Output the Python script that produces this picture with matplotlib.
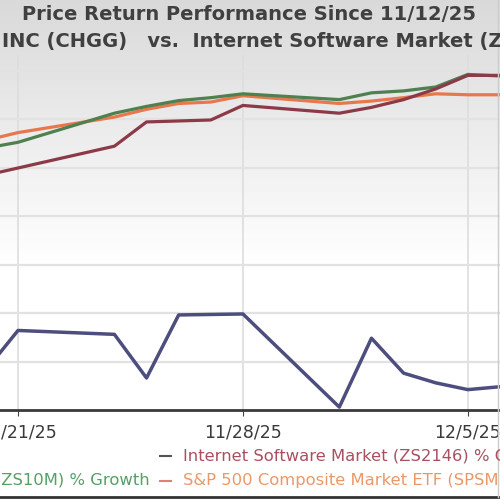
import numpy as np
import matplotlib.pyplot as plt
from matplotlib.lines import Line2D

# Data (days counted from 11/21/25, calendar spacing)
days = [-1, 0, 3, 4, 5, 6, 7, 10, 11, 12, 13, 14, 17]
chgg = [-25.9, -21.8, -22.2, -26.7, -20.2, -20.15, -20.1, -29.7, -22.6, -26.2, -27.2, -27.9, -27.0]
industry = [-5.8, -5.05, -2.8, -0.3, -0.2, -0.1, 1.4, 0.6, 1.2, 2.0, 3.1, 4.5, 4.5]
sector = [-3.0, -2.4, 0.6, 1.3, 1.9, 2.2, 2.6, 2.0, 2.7, 2.9, 3.3, 4.6, 4.1]
sp500 = [-2.2, -1.4, 0.2, 1.0, 1.6, 1.75, 2.4, 1.6, 1.85, 2.2, 2.6, 2.5, 2.5]

tick_days = [0, 7, 14]
tick_labels = ['11/21/25', '11/28/25', '12/5/25']

title1 = 'Price Return Performance Since 11/12/25'
title2 = 'INC (CHGG)   vs.  Internet Software Market (ZS2146)'
leg_industry = 'Internet Software Market (ZS2146) % Growth'
leg_sector = 'Computer and Technology Sector (ZS10M) % Growth'
leg_sp = 'S&P 500 Composite Market ETF (SPSM) % Growth'

c_chgg = '#4d4d7e'
c_ind = '#8c3a48'
c_sec = '#4e8050'
c_sp = '#e8784c'

fig = plt.figure(figsize=(5, 5), dpi=100)

# grey gradient background at the top
bg = fig.add_axes([0, 0, 1, 1], zorder=0)
grad = np.ones((500, 2))
top = np.linspace(0.85, 1.0, 270)
grad[:270, :] = top[:, None]
bg.imshow(grad, cmap='gray', vmin=0, vmax=1, aspect='auto', extent=[0, 1, 0, 1])
bg.axis('off')

ax = fig.add_axes([0, 0.18, 1, 0.71], zorder=1)
ax.patch.set_alpha(0)
ax.set_xlim(-0.56, 15.0)
ax.set_ylim(-30, 6.6)

ax.set_yticks([-25, -20, -15, -10, -5, 0, 5])
ax.set_yticklabels([])
ax.tick_params(axis='y', length=0)
ax.grid(axis='y', color='#e2e2e2', lw=1.6)
ax.set_xticks(tick_days)
ax.set_xticklabels(tick_labels, fontsize=12.5, color='#3a3a3a')
ax.tick_params(axis='x', length=4, color='#444444', pad=6)
for d in tick_days:
    ax.axvline(d, color='#dddddd', lw=1.2, zorder=0)

for s in ['left', 'right', 'top']:
    ax.spines[s].set_visible(False)
ax.spines['bottom'].set_color('#3a3a3a')
ax.spines['bottom'].set_linewidth(2)

ax.plot(days, sp500, color=c_sp, lw=2.3)
ax.plot(days, sector, color=c_sec, lw=2.3)
ax.plot(days, industry, color=c_ind, lw=2.3)
ax.plot(days, chgg, color=c_chgg, lw=2.5)

fig.text(0.497, 0.97, title1, ha='center', va='center', fontsize=14, fontweight='bold', color='#404040')
fig.text(0.004, 0.916, title2, ha='left', va='center', fontsize=14, fontweight='bold', color='#404040')

# legend rows
fig.add_artist(Line2D([0.32, 0.342], [0.088, 0.088], color='#555555', lw=1.5))
fig.text(0.366, 0.088, leg_industry, ha='left', va='center', fontsize=11.8, color='#a85060')
fig.text(0.30, 0.038, leg_sector, ha='right', va='center', fontsize=11.8, color='#55a065')
fig.add_artist(Line2D([0.32, 0.342], [0.038, 0.038], color='#e08070', lw=1.5))
fig.text(0.366, 0.038, leg_sp, ha='left', va='center', fontsize=11.8, color='#eb9868')

# frame edges
fig.add_artist(Line2D([0, 1], [0.006, 0.006], color='#333333', lw=2))
fig.add_artist(Line2D([0.995, 0.995], [0.006, 1], color='#cccccc', lw=1))

fig.savefig('out.png', dpi=100)
